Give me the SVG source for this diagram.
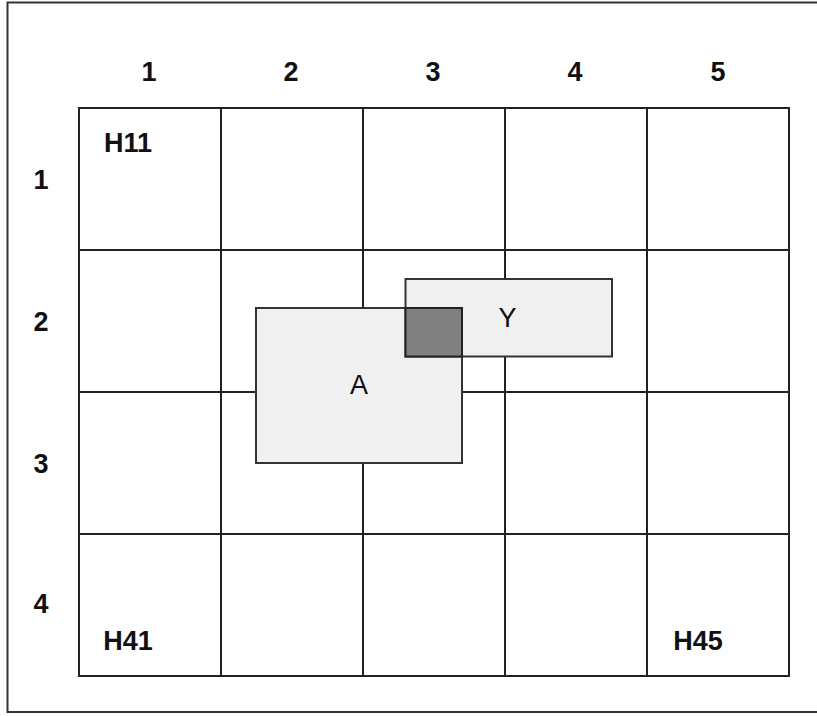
<svg xmlns="http://www.w3.org/2000/svg" width="817" height="716" viewBox="0 0 817 716">
<style>
.ln{stroke:#222;stroke-width:2;fill:none}
.hd{font-family:"Liberation Sans",Arial,sans-serif;font-weight:bold;font-size:27px;fill:#111;text-anchor:middle}
.lb{font-family:"Liberation Sans",Arial,sans-serif;font-size:27px;fill:#111;text-anchor:middle}
.box{fill:#f0f0f0;stroke:#333;stroke-width:2}
</style>
<rect x="0" y="0" width="817" height="716" fill="#ffffff"/>
<rect id="frame" x="7.5" y="2.5" width="830" height="709.5" fill="none" stroke="#333" stroke-width="2"/>
<g id="grid" class="ln">
<rect x="79" y="108" width="710" height="568"/>
<line x1="221" y1="108" x2="221" y2="676"/>
<line x1="363" y1="108" x2="363" y2="676"/>
<line x1="505" y1="108" x2="505" y2="676"/>
<line x1="647" y1="108" x2="647" y2="676"/>
<line x1="79" y1="250" x2="789" y2="250"/>
<line x1="79" y1="392" x2="789" y2="392"/>
<line x1="79" y1="534" x2="789" y2="534"/>
</g>
<g id="col-headers">
<text class="hd" x="149" y="81">1</text>
<text class="hd" x="291" y="81">2</text>
<text class="hd" x="433" y="81">3</text>
<text class="hd" x="575" y="81">4</text>
<text class="hd" x="718" y="81">5</text>
</g>
<g id="row-headers">
<text class="hd" x="41" y="189">1</text>
<text class="hd" x="41" y="331">2</text>
<text class="hd" x="41" y="473">3</text>
<text class="hd" x="41" y="613">4</text>
</g>
<g id="cell-labels">
<text class="hd" x="128" y="152">H11</text>
<text class="hd" x="128" y="650">H41</text>
<text class="hd" x="698" y="650">H45</text>
</g>
<g id="A">
<rect class="box" x="256" y="308" width="206" height="155"/>
</g>
<g id="Y">
<rect class="box" x="405.5" y="279" width="206.5" height="77.5"/>
<rect x="405.5" y="308" width="56.5" height="48.5" fill="#808080" stroke="#222" stroke-width="2"/>
<text class="lb" x="507.5" y="327">Y</text>
</g>
<text class="lb" x="359" y="394">A</text>
</svg>
